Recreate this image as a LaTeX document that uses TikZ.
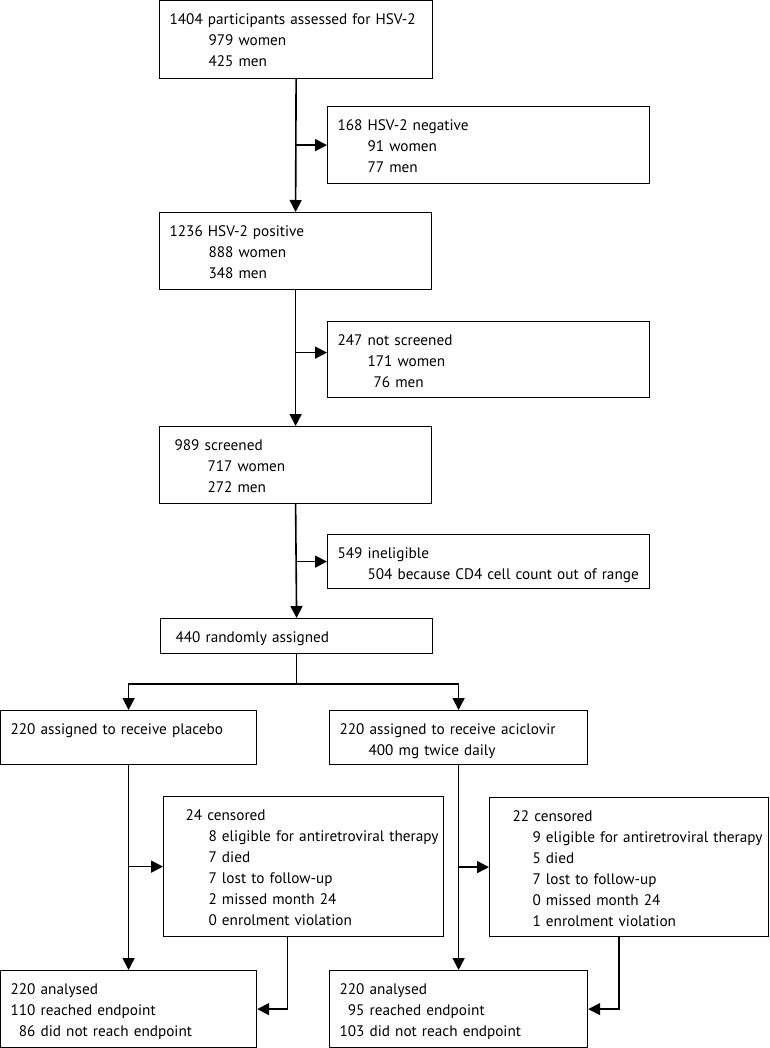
\documentclass[tikz,border=0pt]{standalone}
\usepackage{fontspec}
\setmainfont{PT Sans}
\usetikzlibrary{arrows.meta}

\tikzset{
  box/.style 2 args={draw, line width=1.2pt, anchor=north west, align=left,
    inner xsep=2pt, inner ysep=0pt, text width=#1-4pt, minimum width=#1,
    text height=23.5pt, text depth=#2-23.5pt,
    font=\fontsize{15.25}{21}\selectfont,
    execute at begin node={\leftskip=8pt\hyphenpenalty=10000}},
  link/.style={line width=1.6pt},
  arr/.style={line width=1.6pt, -{Triangle[length=12pt,width=12pt]}}
}

\begin{document}
\begin{tikzpicture}[x=1pt, y=-1pt]
\useasboundingbox (0,0) rectangle (769,1048);

% Screening
\node[box={273pt}{78pt}] (assess) at (159,0)
  {1404 participants assessed for HSV-2\\\hspace*{39pt}979 women\\\hspace*{39pt}425 men};
\node[box={322pt}{77pt}] (neg) at (327,106)
  {168 HSV-2 negative\\\hspace*{30pt}91 women\\\hspace*{30pt}77 men};
\node[box={272pt}{77pt}] (pos) at (159,212)
  {1236 HSV-2 positive\\\hspace*{39pt}888 women\\\hspace*{39pt}348 men};
\node[box={322pt}{76pt}] (notscr) at (327,321)
  {247 not screened\\\hspace*{30pt}171 women\\\hspace*{36pt}76 men};
\node[box={272pt}{77pt}] (scr) at (159,426)
  {\hspace*{5pt}989 screened\\\hspace*{38pt}717 women\\\hspace*{38pt}272 men};
\node[box={322pt}{54pt}] (inel) at (327,534)
  {549 ineligible\\\hspace*{30pt}504 because CD4 cell count out of range};
\node[box={272pt}{35pt}] (rand) at (160,618)
  {\hspace*{5pt}440 randomly assigned};

% Groups
\node[box={256pt}{54pt}] (placebo) at (0,710)
  {220 assigned to receive placebo};
\node[box={258pt}{54pt}] (acic) at (329,710)
  {220 assigned to receive aciclovir\\\hspace*{29pt}400 mg twice daily};

% Censored
\node[box={280pt}{140pt}] (cens1) at (163,796)
  {\hspace*{12pt}24 censored\\\hspace*{35pt}8 eligible for antiretroviral therapy\\\hspace*{35pt}7 died\\
   \hspace*{35pt}7 lost to follow-up\\\hspace*{35pt}2 missed month 24\\\hspace*{35pt}0 enrolment violation};
\node[box={279pt}{139pt}] (cens2) at (489,797)
  {\hspace*{13pt}22 censored\\\hspace*{33pt}9 eligible for antiretroviral therapy\\\hspace*{33pt}5 died\\
   \hspace*{33pt}7 lost to follow-up\\\hspace*{33pt}0 missed month 24\\\hspace*{33pt}1 enrolment violation};

% Analysed
\node[box={256pt}{77pt}] (anal1) at (0,970)
  {220 analysed\\110 reached endpoint\\\phantom{0}86 did not reach endpoint};
\node[box={258pt}{77pt}] (anal2) at (329,970)
  {220 analysed\\\phantom{0}95 reached endpoint\\103 did not reach endpoint};

% Main line
\draw[arr] (assess.south) -- (pos.north);
\draw[arr] (assess.south |- neg.west) -- (neg.west);
\draw[arr] (pos.south) -- (scr.north);
\draw[arr] (pos.south |- notscr.west) ++(0,-7) -- ([yshift=7pt]notscr.west);
\draw[arr] (scr.south) -- (rand.north);
\draw[arr] (scr.south |- inel.west) -- (inel.west);

% Split
\draw[link] (rand.south) -- ++(0,30) coordinate (split);
\draw[arr] (split) -| (placebo.north);
\draw[arr] (split) -| (acic.north);

% Follow-up
\draw[arr] (placebo.south) -- (anal1.north);
\draw[arr] (placebo.south |- cens1.west) -- (cens1.west);
\draw[arr] (acic.south) -- (anal2.north);
\draw[arr] (acic.south |- cens2.west) -- (cens2.west);
\draw[arr] ([xshift=-16pt]cens1.south) |- (anal1.east);
\draw[arr] ([xshift=-10pt]cens2.south) |- (anal2.east);
\end{tikzpicture}
\end{document}
